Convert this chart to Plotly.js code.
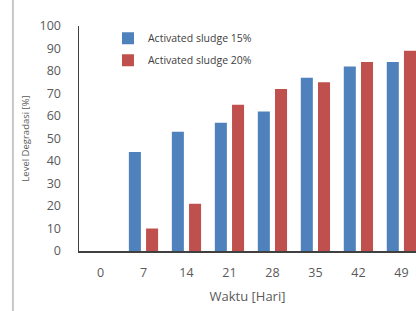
<!DOCTYPE html>
<html>
<head>
<meta charset="utf-8">
<script src="https://cdn.plot.ly/plotly-3.0.1.min.js"></script>
<style>html,body{margin:0;padding:0;background:#fff;}#chart{width:416px;height:311px;}</style>
</head>
<body>
<div id="chart"></div>
<script>
const days = ['0', '7', '14', '21', '28', '35', '42', '49'];
const sludge15 = [0, 44, 53, 57, 62, 77, 82, 84];
const sludge20 = [0, 10, 21, 65, 72, 75, 84, 89];
const seriesNames = ['Activated sludge 15%', 'Activated sludge 20%'];

const data = [
  {type: 'bar', x: days, y: sludge15, name: seriesNames[0], legendgroup: 'a',
   marker: {color: '#4F81BD'}},
  {type: 'bar', x: days, y: sludge20, name: seriesNames[1], legendgroup: 'b',
   marker: {color: '#C0504D'}}
];

const layout = {
  width: 416, height: 311,
  margin: {l: 79, r: 0, t: 26, b: 60},
  paper_bgcolor: '#fff', plot_bgcolor: '#fff',
  font: {family: 'Open Sans, sans-serif', color: '#595959', size: 10},
  barmode: 'group', bargap: 0.2, bargroupgap: 0.3,
  showlegend: true,
  legend: {x: 0.086, y: 1.01, xanchor: 'left', yanchor: 'top',
           bgcolor: 'rgba(0,0,0,0)', font: {size: 10.5, color: '#404040'},
           traceorder: 'grouped', tracegroupgap: 3},
  xaxis: {type: 'category', range: [-0.5, 7.34], showline: true, linecolor: '#404040',
          linewidth: 1.5, showgrid: false, ticks: '', ticklen: 0, ticklabelstandoff: 9,
          tickfont: {size: 12.5, color: '#595959'},
          title: {text: 'Waktu [Hari]', font: {size: 13, color: '#595959'}, standoff: 12}},
  yaxis: {range: [0, 100], dtick: 10, showline: true, linecolor: '#404040', linewidth: 1.5,
          showgrid: false, zeroline: false, ticks: '', ticklabelstandoff: 14,
          tickfont: {size: 12.5, color: '#595959'},
          title: {text: 'Level Degradasi [%]', font: {size: 9.5, color: '#595959'}, standoff: 8}},
  shapes: [{type: 'line', xref: 'paper', yref: 'paper', x0: -0.196, x1: -0.196, y0: -0.27, y1: 1.12,
            line: {color: '#c8c8c8', width: 2}}]
};

Plotly.newPlot('chart', data, layout, {displayModeBar: false, staticPlot: true});
</script>
</body>
</html>
